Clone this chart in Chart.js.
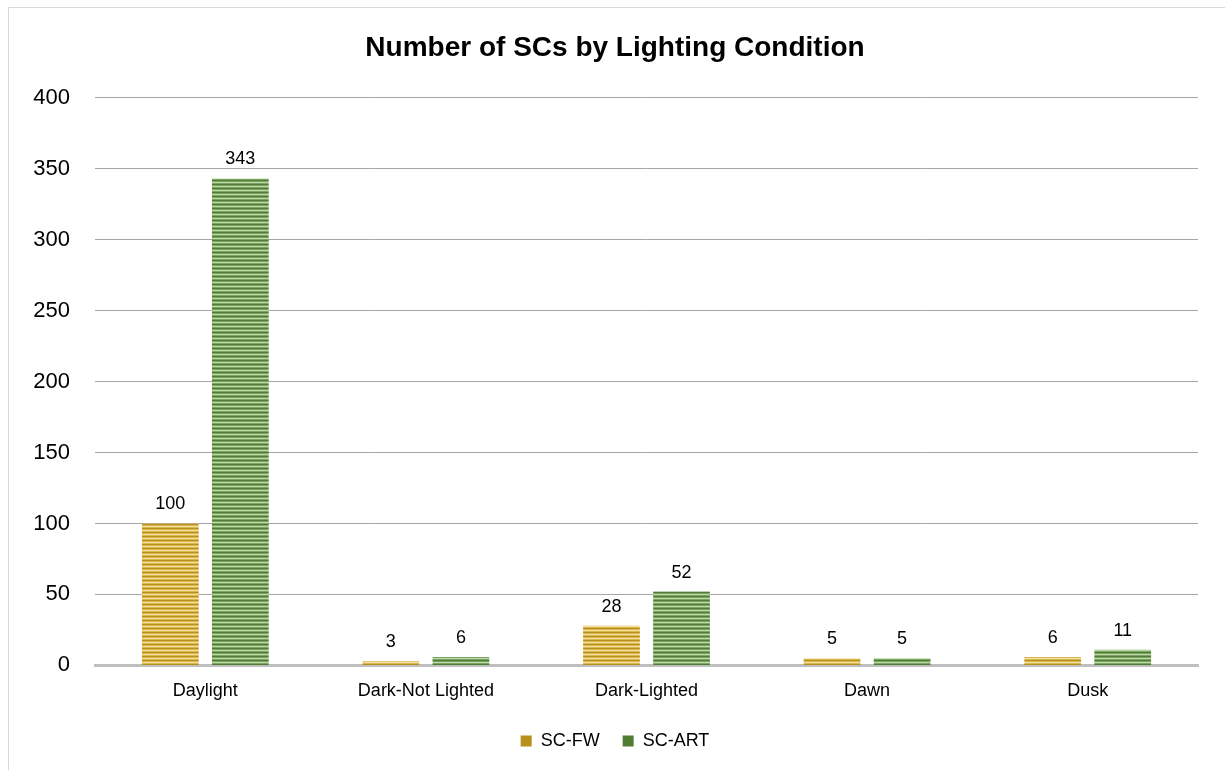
<!DOCTYPE html>
<html lang="en">
<head>
  <meta charset="UTF-8">
  <title>Number of SCs by Lighting Condition</title>
  <script src="https://cdn.jsdelivr.net/npm/chart.js"></script>
  <style>
    body {
      margin: 0;
      background: #fff;
      font-family: Arial, "Liberation Sans", sans-serif;
    }
    .frame {
      position: absolute;
      left: 8px;
      top: 7px;
      width: 1240px;
      height: 790px;
      border: 1px solid #d9d9d9;
      pointer-events: none;
    }
    .wrap {
      position: absolute;
      left: 0;
      top: 0;
      width: 1225px;
      height: 770px;
    }
  </style>
</head>
<body>
  <div class="wrap"><canvas id="chart" width="1225" height="770"></canvas></div>
  <div class="frame"></div>

  <script>
    const categories = ['Daylight', 'Dark-Not Lighted', 'Dark-Lighted', 'Dawn', 'Dusk'];
    const scFw = [100, 3, 28, 5, 6];
    const scArt = [343, 6, 52, 5, 11];
    const yTicks = [0, 50, 100, 150, 200, 250, 300, 350, 400];
    const solidColors = ['#b8901e', '#4f7d33'];

    // horizontal stripe fill, like the office "narrow horizontal" texture
    function stripes(dark, mid, light) {
      const c = document.createElement('canvas');
      c.width = 4;
      c.height = 4;
      const g = c.getContext('2d');
      g.fillStyle = dark;  g.fillRect(0, 0, 4, 1);
      g.fillStyle = mid;   g.fillRect(0, 1, 4, 1);
      g.fillStyle = light; g.fillRect(0, 2, 4, 1);
      g.fillStyle = mid;   g.fillRect(0, 3, 4, 1);
      return g.createPattern(c, 'repeat');
    }

    const goldFill = stripes('#b8901e', '#d9b850', '#f3e0a0');
    const greenFill = stripes('#4f7d33', '#7ca562', '#bdd7ab');

    const valueLabels = {
      id: 'valueLabels',
      afterDatasetsDraw(chart) {
        const ctx = chart.ctx;
        ctx.save();
        ctx.font = '18px Arial';
        ctx.fillStyle = '#000';
        ctx.textAlign = 'center';
        ctx.textBaseline = 'bottom';
        chart.data.datasets.forEach((ds, i) => {
          chart.getDatasetMeta(i).data.forEach((bar, j) => {
            ctx.fillText(ds.data[j], bar.x, bar.y - 10);
          });
        });
        ctx.restore();
      }
    };

    new Chart(document.getElementById('chart'), {
      type: 'bar',
      data: {
        labels: categories,
        datasets: [
          { label: 'SC-FW', data: scFw, backgroundColor: goldFill, borderWidth: 0 },
          { label: 'SC-ART', data: scArt, backgroundColor: greenFill, borderWidth: 0 }
        ]
      },
      options: {
        responsive: false,
        animation: false,
        categoryPercentage: 0.635,
        barPercentage: 0.81,
        layout: { padding: { left: 32, right: 27, top: 31, bottom: 10 } },
        scales: {
          x: {
            grid: { display: false },
            border: { display: true, color: '#bfbfbf', width: 3 },
            ticks: { color: '#000', font: { size: 18, family: 'Arial' }, padding: 7 }
          },
          y: {
            min: 0,
            max: 400,
            afterBuildTicks(axis) { axis.ticks = yTicks.map(v => ({ value: v })); },
            afterFit(axis) { axis.width = 63; },
            grid: { color: '#a6a6a6', lineWidth: 1, drawTicks: false },
            border: { display: false },
            ticks: { color: '#000', font: { size: 22, family: 'Arial' }, padding: 25 }
          }
        },
        plugins: {
          title: {
            display: true,
            text: 'Number of SCs by Lighting Condition',
            color: '#000',
            font: { size: 28, weight: 'bold', family: 'Arial' },
            padding: { top: 0, bottom: 33 }
          },
          legend: {
            position: 'bottom',
            labels: {
              color: '#000',
              font: { size: 18, family: 'Arial' },
              boxWidth: 11,
              boxHeight: 11,
              padding: 23,
              generateLabels(chart) {
                return chart.data.datasets.map((ds, i) => ({
                  text: ds.label,
                  fillStyle: solidColors[i],
                  strokeStyle: solidColors[i],
                  lineWidth: 0,
                  fontColor: '#000',
                  datasetIndex: i
                }));
              }
            }
          },
          tooltip: { enabled: false }
        }
      },
      plugins: [valueLabels]
    });
  </script>
</body>
</html>
